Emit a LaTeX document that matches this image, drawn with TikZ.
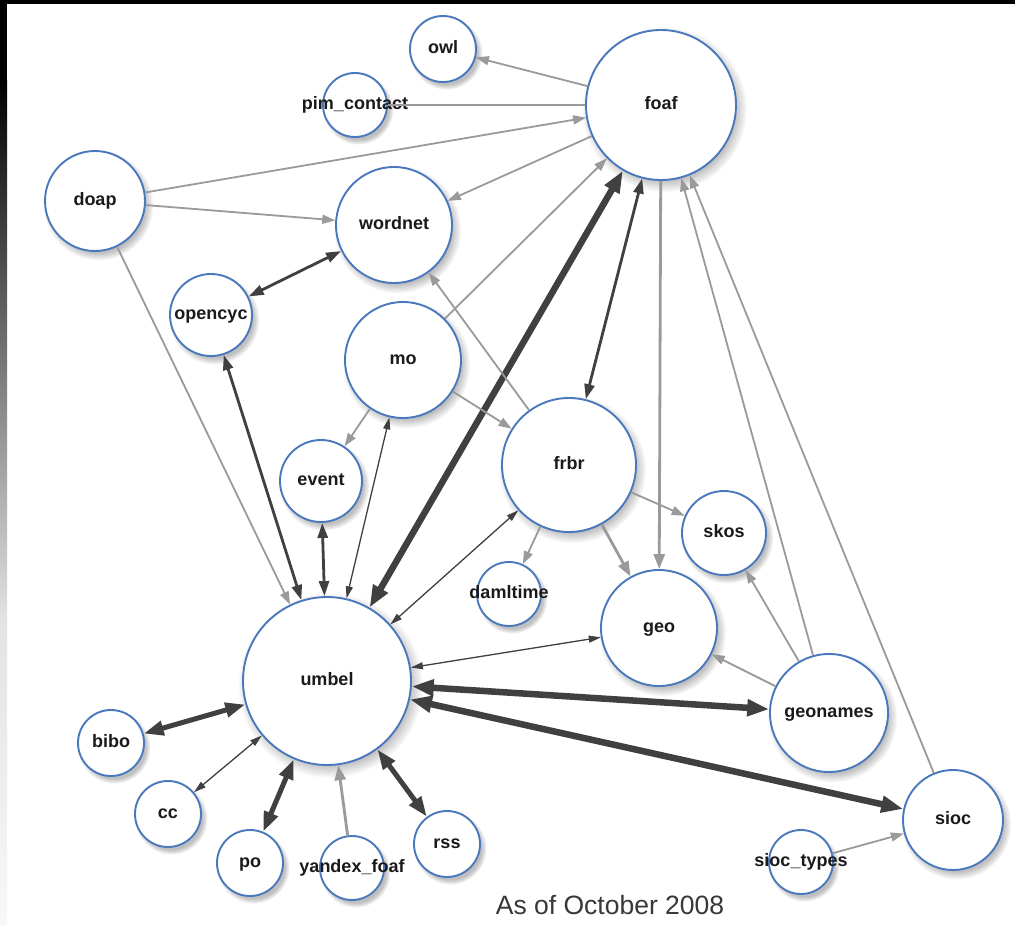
\documentclass[tikz,border=0pt]{standalone}
\usepackage{fontspec}
\setmainfont{Liberation Sans}
\usetikzlibrary{arrows.meta,shadows,fadings}
\definecolor{nodeblue}{HTML}{4A78BC}
\definecolor{litegray}{HTML}{9A9A9A}
\definecolor{dkgray}{HTML}{404040}
\definecolor{labelcol}{HTML}{1A1A1A}
\definecolor{captioncol}{HTML}{383838}
\begin{document}
\begin{tikzpicture}[x=1pt,y=-1pt,
  vnode/.style={circle, draw=nodeblue, line width=1.9pt, fill=white, inner sep=0pt,
    text=labelcol, font=\bfseries\fontsize{18}{18}\selectfont,
    text height=13pt, text depth=4pt,
    circular drop shadow={shadow scale=1.1, shadow xshift=3pt, shadow yshift=-4pt, opacity=0.45, fill=black!55}},
  lite/.style={draw=litegray, line width=1.8pt, >={Triangle[length=13pt,width=9pt]}},
  litethick/.style={draw=litegray, line width=2.8pt, >={Triangle[length=15pt,width=11pt]}},
  dk/.style={draw=dkgray, line width=1.3pt, >={Triangle[length=12pt,width=7pt]}},
  dkmed/.style={draw=dkgray, line width=2.8pt, >={Triangle[length=15pt,width=10pt]}},
  dkthick/.style={draw=dkgray, line width=5pt, >={Triangle[length=20pt,width=14pt]}},
  dkthickest/.style={draw=dkgray, line width=6.5pt, >={Triangle[length=22pt,width=16pt]}},
  caption/.style={text=captioncol, font=\fontsize{26.5}{26.5}\selectfont, inner sep=0pt}
]
\useasboundingbox (0,0) rectangle (1015,924);
\fill[white] (0,0) rectangle (1015,924);
% screenshot frame
\fill[black] (0,0) rectangle (1015,4);
\fill[black] (0,0) rectangle (7,80);
\shade[top color=black, bottom color=gray!22] (0,80) rectangle (7,620);
\shade[top color=gray!22, bottom color=gray!6] (0,620) rectangle (7,924);

% nodes
\node[vnode, minimum size=66pt]  (owl)      at (443,49)  {\makebox[0pt]{owl}};
\node[vnode, minimum size=64pt]  (pim)      at (355,105) {\makebox[0pt]{pim\_contact}};
\node[vnode, minimum size=150pt] (foaf)     at (661,105) {\makebox[0pt]{foaf}};
\node[vnode, minimum size=116pt] (wordnet)  at (394,225) {\makebox[0pt]{wordnet}};
\node[vnode, minimum size=100pt] (doap)     at (95,201)  {\makebox[0pt]{doap}};
\node[vnode, minimum size=82pt]  (opencyc)  at (211,315) {\makebox[0pt]{opencyc}};
\node[vnode, minimum size=116pt] (mo)       at (403,360) {\makebox[0pt]{mo}};
\node[vnode, minimum size=82pt]  (event)    at (321,481) {\makebox[0pt]{event}};
\node[vnode, minimum size=134pt] (frbr)     at (569,465) {\makebox[0pt]{frbr}};
\node[vnode, minimum size=64pt]  (damltime) at (509,594) {\makebox[0pt]{damltime}};
\node[vnode, minimum size=84pt]  (skos)     at (724,533) {\makebox[0pt]{skos}};
\node[vnode, minimum size=116pt] (geo)      at (659,628) {\makebox[0pt]{geo}};
\node[vnode, minimum size=168pt] (umbel)    at (327,681) {\makebox[0pt]{umbel}};
\node[vnode, minimum size=118pt] (geonames) at (829,713) {\makebox[0pt]{geonames}};
\node[vnode, minimum size=100pt] (sioc)     at (953,820) {\makebox[0pt]{sioc}};
\node[vnode, minimum size=64pt]  (siocty)   at (801,862) {\makebox[0pt]{sioc\_types}};
\node[vnode, minimum size=66pt]  (bibo)     at (111,743) {\makebox[0pt]{bibo}};
\node[vnode, minimum size=66pt]  (cc)       at (168,814) {\makebox[0pt]{cc}};
\node[vnode, minimum size=66pt]  (po)       at (250,863) {\makebox[0pt]{po}};
\node[vnode, minimum size=64pt]  (yandex)   at (352,868) {\makebox[0pt]{yandex\_foaf}};
\node[vnode, minimum size=66pt]  (rss)      at (447,844) {\makebox[0pt]{rss}};

\node[caption] (cap) at (610,905) {As of October 2008};

% edges
\draw[lite,->] (foaf) -- (owl);
\draw[lite] (pim) -- (foaf);
\draw[lite,->] (doap) -- (foaf);
\draw[lite,->] (foaf) -- (wordnet);
\draw[lite,->] (doap) -- (wordnet);
\draw[lite,->] (mo) -- (foaf);
\draw[dkthickest,<->] (umbel) -- (foaf);
\draw[dkmed,<->] (foaf) -- (frbr);
\draw[litethick,->] (foaf) -- (geo);
\draw[lite,->] (geonames) -- (foaf);
\draw[lite,->] (sioc) -- (foaf);
\draw[lite,->] (frbr) -- (wordnet);
\draw[lite,->] (mo) -- (frbr);
\draw[lite,->] (mo) -- (event);
\draw[dk,<->] (umbel) -- (mo);
\draw[dkmed,<->] (event) -- (umbel);
\draw[dkmed,<->] (opencyc) -- (wordnet);
\draw[dkmed,<->] (opencyc) -- (umbel);
\draw[lite,->] (doap) -- (umbel);
\draw[lite,->] (frbr) -- (damltime);
\draw[litethick,->] (frbr) -- (geo);
\draw[lite,->] (frbr) -- (skos);
\draw[dk,<->] (umbel) -- (frbr);
\draw[dk,<->] (umbel) -- (geo);
\draw[dkthickest,<->] (umbel) -- (geonames);
\draw[dkthickest,<->] (umbel) -- (sioc);
\draw[lite,->] (geonames) -- (geo);
\draw[lite,->] (geonames) -- (skos);
\draw[lite,->] (siocty) -- (sioc);
\draw[dkthick,<->] (bibo) -- (umbel);
\draw[dk,<->] (cc) -- (umbel);
\draw[dkthick,<->] (po) -- (umbel);
\draw[litethick,->] (yandex) -- (umbel);
\draw[dkthick,<->] (rss) -- (umbel);
\end{tikzpicture}
\end{document}
